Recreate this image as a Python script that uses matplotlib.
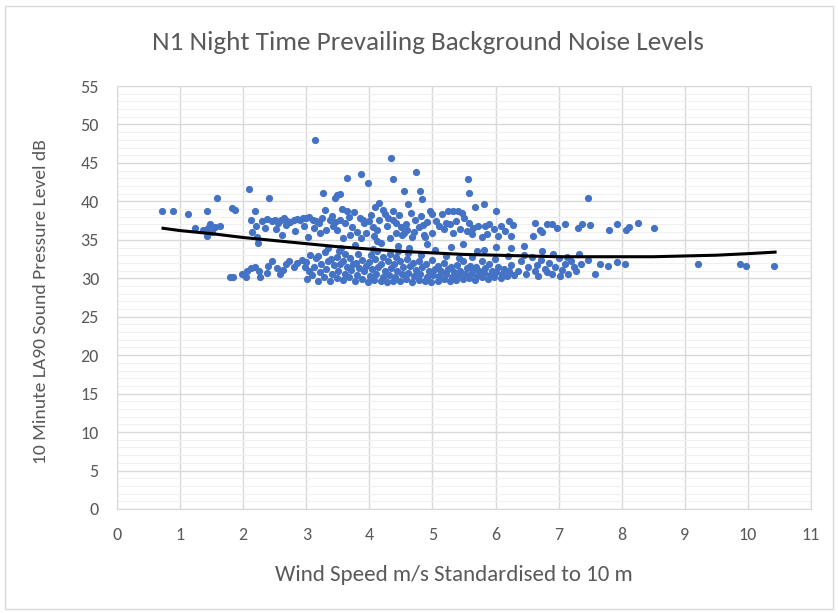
import matplotlib.pyplot as plt
from matplotlib.patches import Rectangle

plt.rcParams['font.family'] = ['Carlito', 'Liberation Sans Narrow', 'Open Sans', 'DejaVu Sans']

# Scattered points at low wind speeds (m/s, dB)
left_x = [0.72, 0.88, 1.12, 1.24, 1.37, 1.42, 1.43, 1.45, 1.48, 1.50, 1.55, 1.59, 1.63, 1.82, 1.87]
left_y = [38.7, 38.7, 38.4, 36.5, 36.3, 35.5, 38.7, 36.5, 37.1, 36.0, 36.7, 40.4, 36.8, 39.2, 38.9]

# Upper cloud of readings
upper_x = [2.10, 2.19, 2.41, 2.12, 2.20, 2.14, 2.22, 2.24,
           2.30, 2.35, 2.38, 2.45, 2.50, 2.52, 2.55, 2.60, 2.62, 2.65, 2.68, 2.70,
           2.75, 2.80, 2.82, 2.85, 2.90, 2.95, 2.97, 3.00, 3.02, 3.05, 3.10, 3.12,
           3.15, 3.20, 3.22, 3.25, 3.30, 3.32, 3.37, 3.40, 3.43, 3.45, 3.48, 3.53,
           3.56, 3.59, 3.62, 3.64, 3.67, 3.69, 3.72, 3.75, 3.80, 3.85, 3.87, 3.90,
           3.92, 3.95, 4.00, 4.02, 4.05, 4.08, 4.12, 4.12, 4.16, 4.21, 4.24, 4.28,
           4.30, 4.33, 4.37, 4.38, 4.42, 4.43, 4.47, 4.50, 4.52, 4.55, 4.58, 4.60,
           4.66, 4.67, 4.70, 4.73, 4.78, 4.82, 4.85, 4.86, 4.88, 4.92, 4.96, 5.00,
           5.00, 5.05, 5.10, 5.15, 5.19, 5.21, 5.25, 5.28, 5.33, 5.33, 5.38, 5.40,
           5.44, 5.47, 5.50, 5.54, 5.58, 5.62, 5.65, 5.72, 5.78, 5.83, 5.86, 5.90,
           5.97, 6.04, 6.08, 6.15, 6.21, 6.24, 6.28, 6.60, 6.62, 6.70, 6.74, 6.81,
           6.89, 6.98, 7.10, 7.31, 7.37, 7.49, 7.80, 7.93, 8.06, 8.12, 8.25, 8.51]
upper_y = [41.6, 38.8, 40.4, 37.6, 36.8, 36.0, 35.4, 34.6,
           37.5, 36.6, 37.7, 37.4, 37.6, 36.4, 37.2, 37.6, 35.6, 37.8, 36.9, 37.5,
           37.3, 37.6, 36.2, 37.7, 37.6, 37.8, 36.8, 37.8, 35.4, 38.0, 37.6, 36.5,
           37.4, 37.2, 35.9, 37.9, 38.9, 36.3, 37.6, 38.1, 36.8, 37.3, 36.3, 37.6,
           39.0, 35.2, 37.2, 38.7, 38.0, 35.6, 36.7, 38.6, 36.0, 37.8, 35.2, 37.6,
           37.2, 35.9, 37.4, 38.2, 36.7, 35.5, 36.3, 34.8, 37.6, 38.9, 38.3, 36.8,
           37.9, 35.2, 38.7, 37.6, 35.9, 37.2, 38.2, 36.7, 35.6, 35.9, 37.0, 36.3,
           38.5, 35.4, 36.0, 37.6, 36.7, 38.1, 36.9, 35.6, 35.4, 37.3, 38.7, 38.3,
           35.9, 37.5, 36.8, 38.4, 36.4, 37.2, 38.7, 37.0, 38.7, 35.9, 37.5, 38.7,
           36.4, 38.5, 37.8, 36.2, 37.2, 35.8, 36.5, 36.8, 35.4, 36.8, 35.8, 37.0,
           36.4, 35.5, 36.8, 36.2, 37.5, 35.5, 36.9, 35.5, 37.2, 36.3, 36.0, 37.0,
           37.1, 36.6, 37.0, 36.6, 37.1, 36.9, 36.3, 37.0, 36.3, 36.7, 37.2, 36.5]

# High outliers
high_x = [3.14, 4.35, 4.74, 3.87, 3.65, 3.98, 4.38, 3.27, 3.48, 3.54, 3.45, 4.15,
          4.09, 4.55, 4.80, 4.83, 4.62, 5.56, 5.58, 5.82, 5.68, 6.00, 7.46]
high_y = [48.0, 45.6, 43.8, 43.6, 43.1, 42.4, 42.9, 41.1, 40.8, 41.0, 40.4, 39.8,
          39.3, 41.3, 41.3, 40.3, 39.7, 42.9, 41.1, 39.7, 39.3, 38.7, 40.4]

# Readings between the two bands
mid_x = [3.35, 3.55, 3.78, 4.05, 4.18, 4.45, 4.63, 4.92, 5.04, 5.30, 5.48, 5.70,
         5.82, 6.00, 6.25, 6.45, 6.73]
mid_y = [34.0, 33.9, 34.3, 33.8, 34.6, 34.2, 33.9, 34.4, 33.7, 34.1, 34.5, 33.5,
         33.7, 34.1, 33.9, 34.2, 33.5]

# Lower band of readings
lower_x = [1.79, 1.84, 1.98, 2.05, 2.06, 2.13, 2.19, 2.25, 2.27, 2.37, 2.40, 2.45,
           2.53, 2.58, 2.63, 2.68, 2.72, 2.80, 2.85, 2.93, 2.98,
           3.01, 3.04, 2.99, 3.06,
           3.09, 3.12, 3.15,
           3.18, 3.21, 3.24, 3.19,
           3.28, 3.31, 3.34, 3.29,
           3.38, 3.41, 3.44, 3.39,
           3.48, 3.51, 3.54, 3.49, 3.52,
           3.58, 3.61, 3.64, 3.59, 3.62,
           3.68, 3.71, 3.74, 3.69,
           3.78, 3.81, 3.84, 3.79, 3.82,
           3.88, 3.91, 3.94, 3.89,
           3.98, 4.01, 4.04, 3.99, 4.02,
           4.08, 4.11, 4.14, 4.09, 4.12,
           4.18, 4.21, 4.24, 4.19, 4.22,
           4.28, 4.31, 4.34, 4.29, 4.32,
           4.38, 4.41, 4.44, 4.39, 4.42, 4.45,
           4.48, 4.51, 4.54, 4.49,
           4.58, 4.61, 4.64, 4.59, 4.62,
           4.68, 4.71, 4.74, 4.69,
           4.78, 4.81, 4.84, 4.79, 4.82,
           4.88, 4.91, 4.94, 4.89,
           4.98, 5.01, 5.04, 4.99,
           5.08, 5.11, 5.14, 5.09,
           5.18, 5.21, 5.24, 5.19, 5.22,
           5.28, 5.31, 5.34, 5.29,
           5.38, 5.41, 5.44, 5.39, 5.42,
           5.48, 5.51, 5.54, 5.49,
           5.58, 5.61, 5.64, 5.59, 5.62,
           5.68, 5.71, 5.74, 5.69,
           5.78, 5.81, 5.84, 5.79,
           5.88, 5.91, 5.94, 5.89,
           5.98, 6.01, 6.04, 5.99,
           6.08, 6.11, 6.14,
           6.18, 6.21, 6.24, 6.19,
           6.30, 6.35, 6.40, 6.45, 6.48, 6.52, 6.58, 6.62, 6.66, 6.68, 6.72, 6.78,
           6.82, 6.85, 6.89, 6.91, 6.95, 7.00, 7.02, 7.05, 7.10, 7.14, 7.15, 7.20,
           7.25, 7.28, 7.33, 7.36, 7.46, 7.58, 7.65, 7.79, 7.93, 8.05]
lower_y = [30.2, 30.2, 30.5, 30.2, 30.9, 31.3, 31.5, 31.0, 30.2, 30.7, 31.6, 32.3,
           31.3, 30.6, 31.1, 31.8, 32.2, 31.4, 32.0, 32.4, 31.5,
           29.9, 31.0, 32.1, 33.0,
           30.4, 31.5, 32.6,
           29.7, 30.8, 31.8, 32.9,
           30.2, 31.2, 32.3, 33.4,
           29.6, 30.6, 31.7, 32.5,
           30.0, 31.0, 31.9, 32.8, 33.6,
           29.8, 30.5, 31.4, 32.2, 33.1,
           30.2, 31.1, 31.8, 32.6,
           29.6, 30.4, 31.3, 32.0, 33.2,
           29.9, 30.9, 31.6, 32.4,
           29.5, 30.3, 31.2, 32.1, 33.0,
           29.8, 30.6, 31.5, 32.5, 33.5,
           29.6, 30.1, 30.9, 31.8, 32.7,
           29.5, 30.4, 31.3, 32.2, 33.1,
           29.7, 30.2, 31.0, 31.9, 32.8, 33.6,
           29.6, 30.5, 31.4, 32.3,
           29.9, 30.7, 31.6, 32.5, 33.3,
           29.5, 30.3, 31.1, 32.0,
           29.8, 30.6, 31.4, 32.2, 33.0,
           29.6, 30.2, 31.0, 31.8,
           29.5, 30.4, 31.2, 32.4,
           29.7, 30.3, 30.9, 31.6,
           29.9, 30.5, 31.2, 32.0, 32.9,
           29.6, 30.2, 30.8, 31.5,
           29.8, 30.4, 31.0, 31.7, 32.6,
           29.9, 30.6, 31.3, 32.2,
           30.0, 30.5, 31.1, 31.6, 32.8,
           29.8, 30.3, 30.9, 31.5,
           30.1, 30.7, 31.3, 32.3,
           29.9, 30.4, 31.0, 31.8,
           30.2, 30.8, 31.4, 32.5,
           30.0, 30.6, 31.2,
           30.3, 30.9, 31.7, 32.9,
           30.4, 31.0, 32.2, 33.0, 30.6, 31.5, 32.8, 30.9, 31.7, 30.3, 32.4, 31.2,
           30.8, 32.0, 30.5, 33.1, 31.5, 32.6, 30.3, 31.1, 31.8, 32.7, 30.5, 32.3,
           31.4, 30.9, 33.2, 31.8, 32.4, 30.5, 31.8, 31.6, 32.1, 31.8]

# Sparse readings at high wind speeds
right_x = [9.21, 9.87, 9.97, 10.42]
right_y = [31.8, 31.9, 31.6, 31.6]

# Polynomial trend line
trend_x = [0.73, 1.0, 1.5, 2.0, 2.5, 3.0, 3.5, 4.0, 4.5, 5.0, 5.5, 6.0, 6.5, 7.0,
           7.5, 8.0, 8.5, 9.0, 9.5, 10.0, 10.43]
trend_y = [36.5, 36.2, 35.8, 35.3, 34.9, 34.5, 34.1, 33.8, 33.5, 33.3, 33.1, 33.0,
           32.9, 32.8, 32.8, 32.8, 32.8, 32.9, 33.0, 33.2, 33.4]

text_col = '#595959'
dot_col = '#4472C4'

fig = plt.figure(figsize=(8.38, 6.13), dpi=100)
fig.patches.append(Rectangle((0.006, 0.006), 0.988, 0.985, transform=fig.transFigure,
                             fill=False, edgecolor='#d9d9d9', linewidth=1))
ax = fig.add_axes([0.1396, 0.1697, 0.8282, 0.6900])

for xs, ys in [(left_x, left_y), (upper_x, upper_y), (high_x, high_y),
               (mid_x, mid_y), (lower_x, lower_y), (right_x, right_y)]:
    ax.scatter(xs, ys, s=27, color=dot_col, linewidths=0, zorder=3)

ax.plot(trend_x, trend_y, color='black', linewidth=2.2, zorder=4)

ax.set_xlim(0, 11)
ax.set_ylim(0, 55)
ax.set_xticks(range(0, 12))
ax.set_yticks(range(0, 56, 5))
ax.set_yticks(range(0, 56, 1), minor=True)
ax.grid(which='major', color='#d9d9d9', linewidth=1, zorder=0)
ax.grid(which='minor', axis='y', color='#f0f0f0', linewidth=0.8, zorder=0)
ax.set_axisbelow(True)
for sp in ax.spines.values():
    sp.set_color('#d9d9d9')
ax.tick_params(which='both', length=0, labelsize=13, labelcolor=text_col)
ax.tick_params(axis='x', pad=13)
ax.tick_params(axis='y', pad=13)

ax.set_xlabel('Wind Speed m/s Standardised to 10 m', fontsize=16.5, color=text_col)
ax.set_ylabel('10 Minute LA90 Sound Pressure Level dB', fontsize=14, color=text_col)
ax.xaxis.set_label_coords(0.485, -0.133)
ax.yaxis.set_label_coords(-0.098, 0.49)
fig.text(0.511, 0.93, 'N1 Night Time Prevailing Background Noise Levels', ha='center',
         va='center', fontsize=19.5, color=text_col)

fig.savefig('out.png', dpi=100)
